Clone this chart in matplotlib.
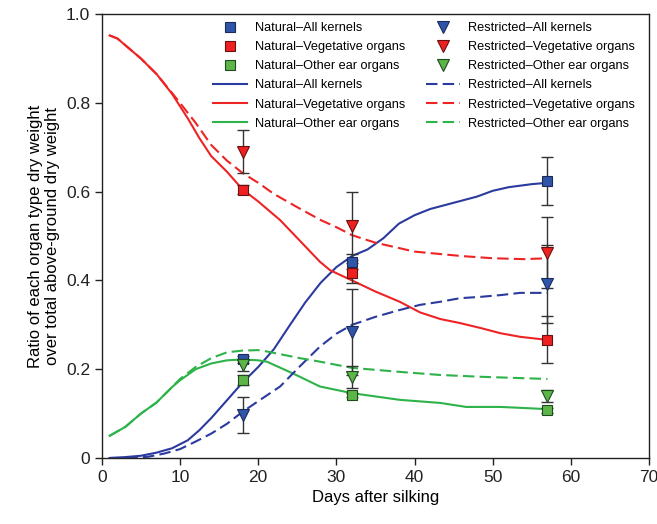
import numpy as np
import matplotlib
matplotlib.use('Agg')
import matplotlib.pyplot as plt

plt.rcParams['font.family'] = ['Liberation Sans', 'DejaVu Sans']

# sampled days for each curve
nat_kern_day = [1, 3, 5, 7, 9, 11, 12.5, 14, 16, 18, 20, 22, 24, 26, 28, 30, 32, 34, 36, 38, 40, 42, 45, 48, 50, 52, 55, 57]
nat_kern_val = [0, 0.002, 0.005, 0.012, 0.022, 0.04, 0.063, 0.09, 0.13, 0.17, 0.205, 0.245, 0.298, 0.35, 0.395, 0.43, 0.455, 0.47, 0.495, 0.528, 0.547, 0.561, 0.575, 0.589, 0.602, 0.61, 0.617, 0.62]

res_kern_day = [1, 4, 6, 8, 10, 12, 14, 16, 18, 20, 22.8, 25.3, 27.9, 30, 32, 35, 38, 40.7, 43.3, 45.8, 48.4, 51, 53.5, 57]
res_kern_val = [0, 0, 0.003, 0.01, 0.02, 0.037, 0.055, 0.077, 0.104, 0.128, 0.161, 0.206, 0.251, 0.28, 0.3, 0.318, 0.333, 0.345, 0.352, 0.36, 0.363, 0.367, 0.372, 0.372]

nat_veg_day = [1, 2, 3, 5, 7, 9, 11, 12.5, 14, 16, 18, 20, 22.8, 25.3, 27.9, 29.2, 32, 35, 38.1, 40.7, 43.3, 45.8, 48.4, 51, 53.5, 57]
nat_veg_val = [0.952, 0.945, 0.93, 0.9, 0.865, 0.82, 0.765, 0.72, 0.68, 0.645, 0.605, 0.578, 0.536, 0.49, 0.442, 0.423, 0.4, 0.375, 0.352, 0.328, 0.313, 0.304, 0.293, 0.281, 0.273, 0.266]

res_veg_day = [1, 2, 3, 5, 7, 9, 10, 12, 14, 16, 18, 20, 22, 25, 28, 30, 32, 35, 38, 40, 43, 46, 50, 54, 57]
res_veg_val = [0.952, 0.945, 0.93, 0.9, 0.865, 0.822, 0.8, 0.755, 0.705, 0.67, 0.642, 0.62, 0.595, 0.565, 0.536, 0.52, 0.502, 0.485, 0.473, 0.465, 0.46, 0.455, 0.45, 0.448, 0.45]

nat_ear_day = [1, 3, 5, 7, 9, 10, 12, 14, 16, 18, 20, 21.1, 24.5, 27.9, 32, 38.1, 43.3, 46.6, 51, 53.5, 57]
nat_ear_val = [0.05, 0.07, 0.1, 0.125, 0.16, 0.175, 0.2, 0.213, 0.22, 0.222, 0.22, 0.217, 0.19, 0.161, 0.146, 0.131, 0.124, 0.115, 0.115, 0.113, 0.11]

res_ear_day = [1, 3, 5, 7, 9, 10, 12, 14, 16, 18, 20, 21.1, 25.3, 27.9, 32, 38.1, 43.3, 48.4, 53.5, 57]
res_ear_val = [0.05, 0.07, 0.1, 0.125, 0.16, 0.178, 0.205, 0.225, 0.238, 0.242, 0.243, 0.24, 0.225, 0.217, 0.203, 0.194, 0.187, 0.183, 0.18, 0.178]

# measured points
obs_day = [18, 32, 57]
nat_kern_obs = [0.222, 0.442, 0.625]
nat_kern_err = [0.008, 0.017, 0.054]
nat_veg_obs = [0.604, 0.417, 0.266]
nat_veg_err = [0.01, 0.022, 0.053]
nat_ear_obs = [0.176, 0.142, 0.107]
nat_ear_err = [0.012, 0.005, 0.005]
res_kern_obs = [0.097, 0.284, 0.392]
res_kern_err = [0.04, 0.097, 0.088]
res_veg_obs = [0.69, 0.523, 0.462]
res_veg_err = [0.048, 0.077, 0.08]
res_ear_obs = [0.209, 0.183, 0.140]
res_ear_err = [0.012, 0.025, 0.013]

blue = '#2b3a9e'
red = '#ee2424'
green = '#2db34a'
blue_fill = '#2f55a8'
red_fill = '#ee2020'
green_fill = '#5cb547'

fig = plt.figure(figsize=(6.57, 5.24), dpi=100)
ax = fig.add_axes([0.155, 0.126, 0.833, 0.847])

dash = (5.5, 2.5)
ax.plot(nat_kern_day, nat_kern_val, color=blue, lw=1.5, zorder=2)
ax.plot(nat_veg_day, nat_veg_val, color=red, lw=1.5, zorder=2)
ax.plot(nat_ear_day, nat_ear_val, color=green, lw=1.5, zorder=2)
ax.plot(res_kern_day, res_kern_val, color=blue, lw=1.5, dashes=dash, zorder=2)
ax.plot(res_veg_day, res_veg_val, color=red, lw=1.5, dashes=dash, zorder=2)
ax.plot(res_ear_day, res_ear_val, color=green, lw=1.5, dashes=dash, zorder=2)

errs = [(nat_kern_obs, nat_kern_err), (nat_veg_obs, nat_veg_err), (nat_ear_obs, nat_ear_err),
        (res_kern_obs, res_kern_err), (res_veg_obs, res_veg_err), (res_ear_obs, res_ear_err)]
for vals, err in errs:
    ax.errorbar(obs_day, vals, yerr=err, fmt='none', ecolor='#333333', elinewidth=1,
                capsize=4.5, capthick=1, zorder=3)

ms = 7
ax.plot(obs_day, nat_kern_obs, 's', ms=ms, mfc=blue_fill, mec='#1a2a5a', mew=0.8, ls='none', zorder=4)
ax.plot(obs_day, nat_veg_obs, 's', ms=ms, mfc=red_fill, mec='#6a1010', mew=0.8, ls='none', zorder=4)
ax.plot(obs_day, nat_ear_obs, 's', ms=ms, mfc=green_fill, mec='#1f4a1f', mew=0.8, ls='none', zorder=4)
ax.plot(obs_day, res_kern_obs, 'v', ms=ms + 1, mfc=blue_fill, mec='#1a2a5a', mew=0.8, ls='none', zorder=4)
ax.plot(obs_day, res_veg_obs, 'v', ms=ms + 1, mfc=red_fill, mec='#6a1010', mew=0.8, ls='none', zorder=4)
ax.plot(obs_day, res_ear_obs, 'v', ms=ms + 1, mfc=green_fill, mec='#1f4a1f', mew=0.8, ls='none', zorder=4)

# legend handles (order fills column by column)
h = []
lab = []
for m, fc, ec, name in [('s', blue_fill, '#1a2a5a', 'Natural\u2013All kernels'),
                        ('s', red_fill, '#6a1010', 'Natural\u2013Vegetative organs'),
                        ('s', green_fill, '#1f4a1f', 'Natural\u2013Other ear organs')]:
    h.append(plt.Line2D([], [], marker=m, ms=ms, mfc=fc, mec=ec, mew=0.8, ls='none'))
    lab.append(name)
for c, name in [(blue, 'Natural\u2013All kernels'), (red, 'Natural\u2013Vegetative organs'),
                (green, 'Natural\u2013Other ear organs')]:
    h.append(plt.Line2D([], [], color=c, lw=1.5))
    lab.append(name)
for m, fc, ec, name in [('v', blue_fill, '#1a2a5a', 'Restricted\u2013All kernels'),
                        ('v', red_fill, '#6a1010', 'Restricted\u2013Vegetative organs'),
                        ('v', green_fill, '#1f4a1f', 'Restricted\u2013Other ear organs')]:
    h.append(plt.Line2D([], [], marker=m, ms=ms + 1, mfc=fc, mec=ec, mew=0.8, ls='none'))
    lab.append(name)
for c, name in [(blue, 'Restricted\u2013All kernels'), (red, 'Restricted\u2013Vegetative organs'),
                (green, 'Restricted\u2013Other ear organs')]:
    h.append(plt.Line2D([], [], color=c, lw=1.5, dashes=dash))
    lab.append(name)

ax.legend(h, lab, ncol=2, frameon=False, fontsize=9.15, loc='upper left',
          bbox_to_anchor=(0.203, 0.982), borderpad=0, borderaxespad=0,
          handlelength=2.68, handletextpad=0.63, columnspacing=1.6,
          labelspacing=0.56, numpoints=1)

ax.set_xlim(0, 70)
ax.set_ylim(0, 1.0)
ax.set_xticks([0, 10, 20, 30, 40, 50, 60, 70])
ax.set_yticks([0, 0.2, 0.4, 0.6, 0.8, 1.0])
ax.set_yticklabels(['0', '0.2', '0.4', '0.6', '0.8', '1.0'])
ax.tick_params(direction='out', length=5, width=1, labelsize=12.5, colors='#222222')
for s in ax.spines.values():
    s.set_linewidth(1)
    s.set_color('#222222')
ax.set_xlabel('Days after silking', fontsize=12)
ax.set_ylabel('Ratio of each organ type dry weight\nover total above-ground dry weight', fontsize=12)

fig.savefig('out.png', dpi=100)
